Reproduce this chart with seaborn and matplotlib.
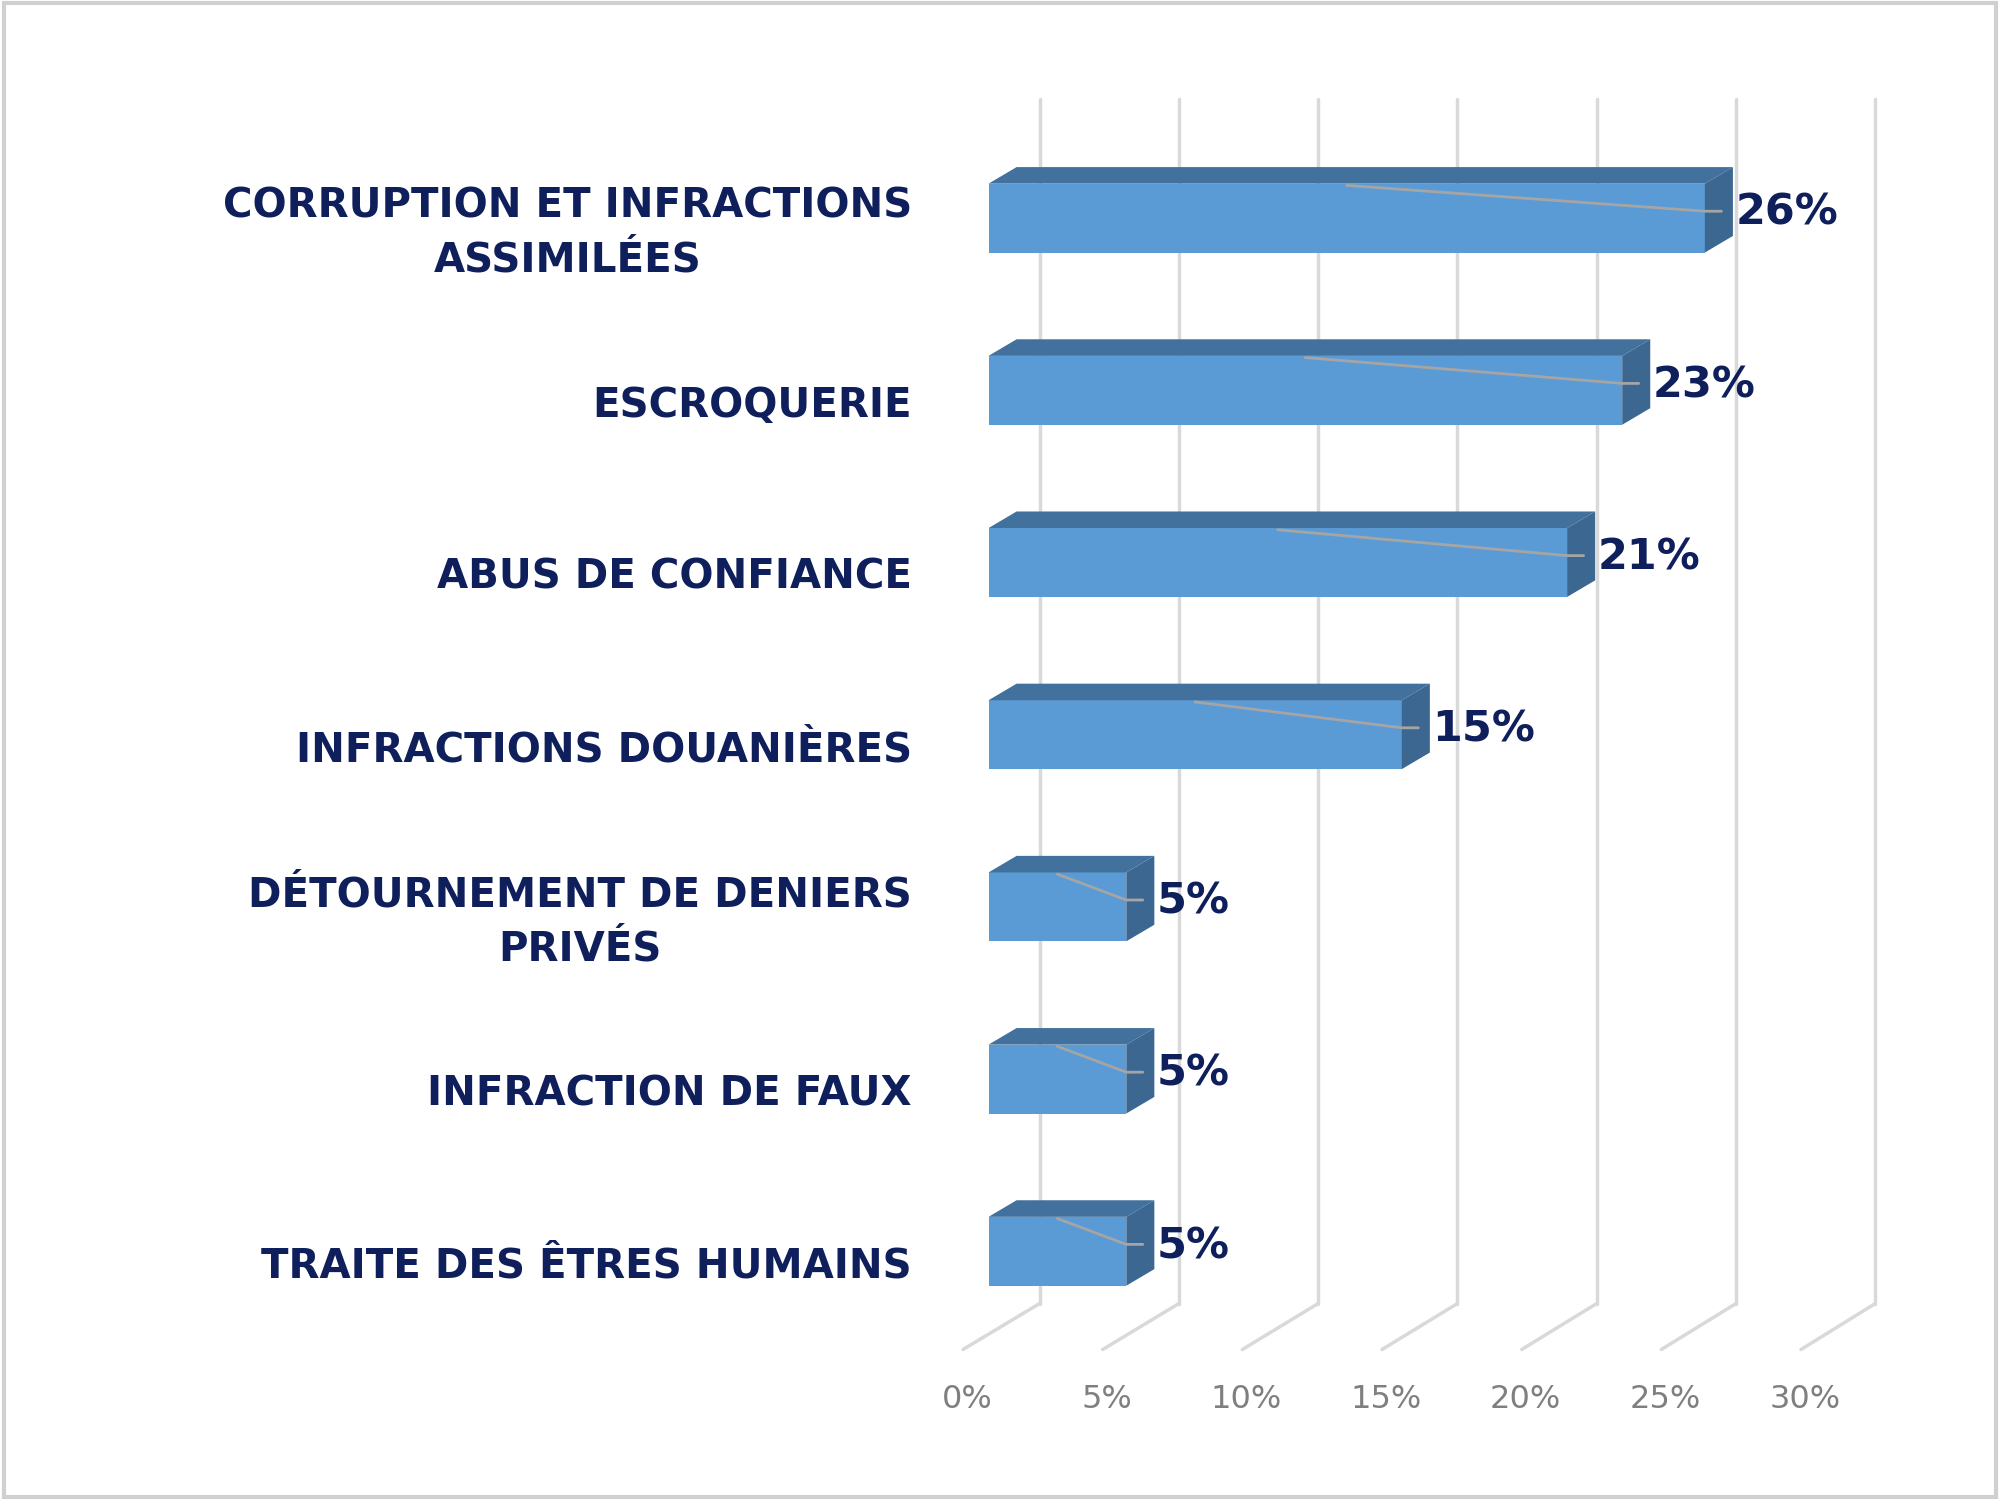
import matplotlib
matplotlib.use("Agg")
import matplotlib.pyplot as plt
import seaborn as sns
import pandas as pd
from matplotlib.patches import Polygon, Rectangle

categories = ["CORRUPTION ET INFRACTIONS\nASSIMILÉES", "ESCROQUERIE", "ABUS DE CONFIANCE",
              "INFRACTIONS DOUANIÈRES", "DÉTOURNEMENT DE DENIERS\nPRIVÉS",
              "INFRACTION DE FAUX", "TRAITE DES ÊTRES HUMAINS"]
values = [26, 23, 21, 15, 5, 5, 5]
ticks = [0, 5, 10, 15, 20, 25, 30]
tick_labels = ["0%", "5%", "10%", "15%", "20%", "25%", "30%"]

sns.set_theme(style="white")
plt.rcParams['font.family'] = ['DejaVu Sans']

SX, X0, SY, Y0 = 21.6, 775.0, 135.0, 171.0
def px2x(p): return (p - X0) / SX
def py2y(p): return (p - Y0) / SY

fig = plt.figure(figsize=(20, 15), dpi=100)
ax = fig.add_axes([0, 0, 1, 1])
df = pd.DataFrame({"cat": categories, "val": values})
sns.barplot(data=df, x="val", y="cat", orient="h", color="#5B9BD5", saturation=1,
            width=0.4, ax=ax, zorder=3, linewidth=0)
ax.set_xlim(px2x(0), px2x(1568))
ax.set_ylim(py2y(1176), py2y(0))
ax.axis("off")

grid = "#D9D9D9"
for k, t in enumerate(ticks):
    xb = px2x(815 + 109.2 * k)
    xf = px2x(755 + 109.5 * k)
    ax.plot([xb, xb], [py2y(78), py2y(1022)], color=grid, lw=2.5, zorder=1)
    ax.plot([xf, xb], [py2y(1058), py2y(1022)], color=grid, lw=2.5, zorder=1)
    ax.text(px2x(758 + 109.5 * k), py2y(1097), tick_labels[k], ha="center", va="center",
            fontsize=23, color="#7F7F7F")

dx, dy = 22 / SX, -13 / SY
h = 0.2
for i, v in enumerate(values):
    c = i
    top = Polygon([(0, c - h), (v, c - h), (v + dx, c - h + dy), (dx, c - h + dy)],
                  closed=True, fc="#41719C", ec="none", zorder=3)
    side = Polygon([(v, c - h), (v, c + h), (v + dx, c + h + dy), (v + dx, c - h + dy)],
                   closed=True, fc="#3B6791", ec="none", zorder=3)
    ax.add_patch(top); ax.add_patch(side)
    ax.plot([v / 2, v, v + 0.6], [c - 0.19, c - 0.04, c - 0.04], color="#A5A5A5", lw=2, zorder=4)
    ax.text(v + 1.1, c - 0.03, f"{v}%", ha="left", va="center", fontsize=31,
            fontweight="heavy", color="#0E1F5B", zorder=5)
    ax.text(px2x(715), c + 0.09, categories[i], ha="right", va="center", fontsize=29,
            fontweight="heavy", color="#0E1F5B", multialignment="center", linespacing=1.45)

fig.patches.append(Rectangle((0.002, 0.002), 0.996, 0.996, transform=fig.transFigure,
                             fill=False, ec="#D0D0D0", lw=3))
fig.savefig("out.png", dpi=100)
